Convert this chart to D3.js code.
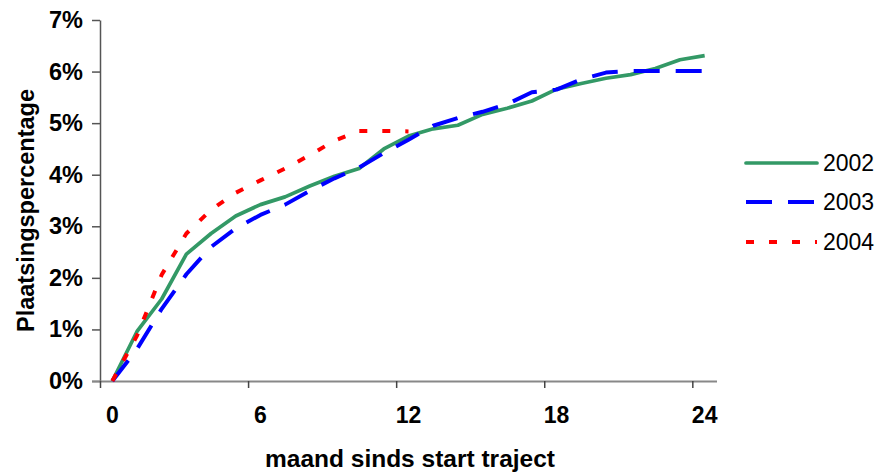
<!DOCTYPE html>
<html>
<head>
<meta charset="utf-8">
<script src="https://cdn.jsdelivr.net/npm/d3@7"></script>
<style>
  html, body { margin: 0; padding: 0; background: #fff; }
  svg { display: block; }
  text { font-family: "Liberation Sans", Arial, sans-serif; }
</style>
</head>
<body>
<svg id="chart" width="879" height="472"></svg>
<script>
// ---- data ----
const months = [0,1,2,3,4,5,6,7,8,9,10,11,12,13,14,15,16,17,18,19,20,21,22,23,24];
const xTickLabels = [0, 6, 12, 18, 24];
const yTicks = [0, 0.01, 0.02, 0.03, 0.04, 0.05, 0.06, 0.07];
const seriesNames = ["2002", "2003", "2004"];
const values2002 = [0, 0.96, 1.59, 2.46, 2.86, 3.20, 3.42, 3.57, 3.78, 3.97, 4.12, 4.50, 4.75, 4.89, 4.96, 5.17, 5.29, 5.43, 5.66, 5.77, 5.87, 5.94, 6.06, 6.23, 6.31];
const values2003 = [0, 0.62, 1.40, 2.07, 2.60, 2.96, 3.22, 3.42, 3.69, 3.93, 4.14, 4.42, 4.68, 4.95, 5.10, 5.22, 5.37, 5.60, 5.65, 5.85, 5.98, 6.01, 6.01, 6.01, 6.01];
const values2004 = [0, 0.88, 2.06, 2.86, 3.32, 3.65, 3.89, 4.12, 4.38, 4.66, 4.85, 4.85, 4.84];

(function () {
// ---- layout ----
const svg = d3.select("#chart");
const pl = 100, pr = 717, pt = 20, pb = 381;

const xBand = d3.scaleBand().domain(months).range([pl, pr]).paddingInner(0).paddingOuter(0);
const xEdge = d3.scaleLinear().domain([0, months.length]).range([pl, pr]);
const y = d3.scaleLinear().domain([0, 0.07]).range([pb, pt]);
const xc = m => xBand(m) + xBand.bandwidth() / 2;

// y axis
const yAxis = svg.append("g")
  .attr("transform", `translate(${pl},0)`)
  .call(d3.axisLeft(y).tickValues(yTicks).tickFormat(d3.format(".0%")).tickSize(8).tickSizeOuter(0).tickPadding(9));
yAxis.select(".domain").attr("stroke", "#555").attr("stroke-width", 1.5);
yAxis.selectAll(".tick line").attr("stroke", "#555").attr("stroke-width", 1.5);
yAxis.selectAll(".tick text").attr("font-size", 23.5).attr("font-weight", "bold").attr("fill", "#000")
  .attr("font-family", "'Liberation Sans', Arial, sans-serif");

// x axis tick marks (category boundaries)
const xAxisMarks = svg.append("g")
  .attr("transform", `translate(0,${pb})`)
  .call(d3.axisBottom(xEdge).tickValues([0, 6, 12, 18, 24]).tickFormat("").tickSize(7).tickSizeOuter(0));
xAxisMarks.select(".domain").attr("stroke", "#888").attr("stroke-width", 2)
  .attr("d", `M${pl - 8},0.5H${pr}`);
xAxisMarks.selectAll(".tick line").attr("stroke", "#444").attr("stroke-width", 1.5);

// x axis labels (category centers)
const xAxisLabels = svg.append("g")
  .attr("transform", `translate(0,${pb})`)
  .call(d3.axisBottom(xBand).tickValues(xTickLabels).tickSize(0).tickPadding(26));
xAxisLabels.select(".domain").remove();
xAxisLabels.selectAll(".tick text").attr("font-size", 23).attr("font-weight", "bold").attr("fill", "#000")
  .attr("font-family", "'Liberation Sans', Arial, sans-serif");

// axis titles
svg.append("text")
  .attr("x", 410).attr("y", 467)
  .attr("text-anchor", "middle").attr("font-size", 24.5).attr("font-weight", "bold")
  .text("maand sinds start traject");
svg.append("text")
  .attr("transform", `translate(34,${(pt + pb) / 2 + 10}) rotate(-90)`)
  .attr("text-anchor", "middle").attr("font-size", 23.5).attr("font-weight", "bold")
  .text("Plaatsingspercentage");

// lines
const styles = [
  { color: "#339966", width: 3.7, dash: null },
  { color: "#0000FF", width: 4, dash: "26,16" },
  { color: "#FF0000", width: 4, dash: "8,15" }
];
const seriesValues = [values2002, values2003, values2004];
const line = d3.line()
  .defined(d => d != null)
  .x((d, i) => xc(months[i]))
  .y(d => y(d / 100));

seriesValues.forEach((vals, k) => {
  svg.append("path")
    .datum(vals)
    .attr("fill", "none")
    .attr("stroke", styles[k].color)
    .attr("stroke-width", styles[k].width)
    .attr("stroke-linejoin", "round")
    .attr("stroke-dasharray", styles[k].dash)
    .attr("d", line);
});

// legend
const legendY = [163, 202, 242];
const legend = svg.append("g");
seriesNames.forEach((name, k) => {
  legend.append("line")
    .attr("x1", 746).attr("x2", 817)
    .attr("y1", legendY[k]).attr("y2", legendY[k])
    .attr("stroke", styles[k].color)
    .attr("stroke-width", styles[k].width)
    .attr("stroke-linecap", k === 0 ? "round" : "butt")
    .attr("stroke-dasharray", styles[k].dash);
  legend.append("text")
    .attr("x", 823).attr("y", legendY[k] + 8)
    .attr("font-size", 23).attr("fill", "#000")
    .text(name);
});
})();
</script>
</body>
</html>
